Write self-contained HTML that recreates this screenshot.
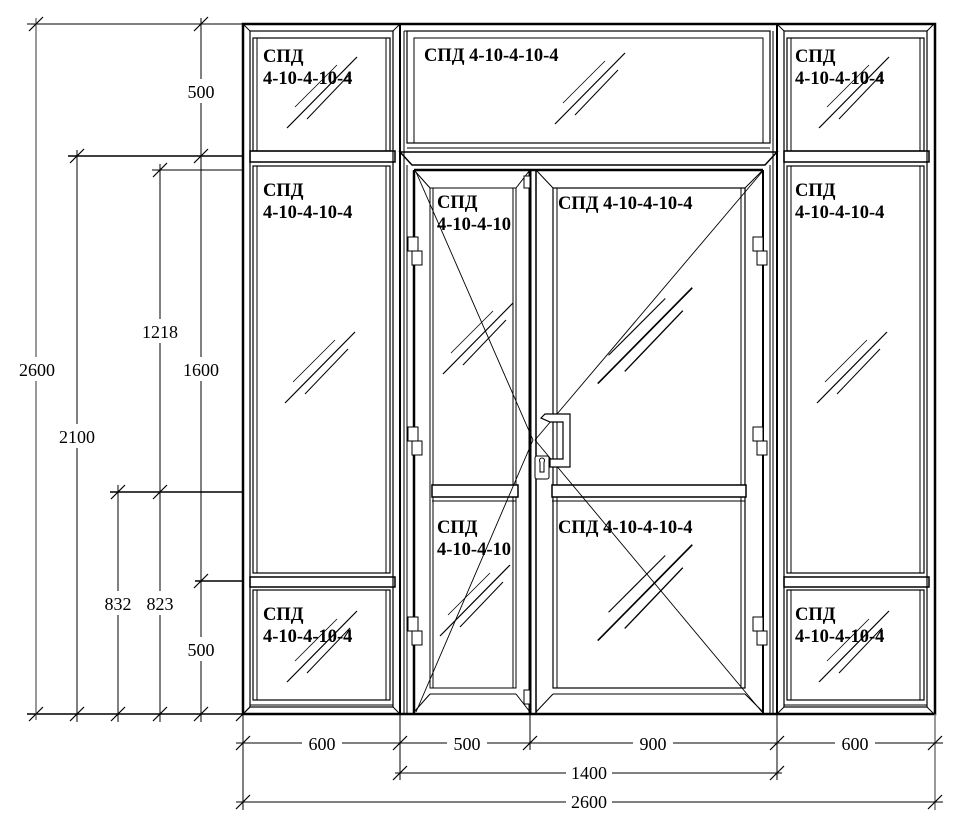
<!DOCTYPE html>
<html><head><meta charset="utf-8"><style>
html,body{margin:0;padding:0;background:#fff;}
svg{display:block;}
text{font-family:"Liberation Serif","DejaVu Serif",serif;}
.l{font-weight:bold;font-size:18.5px;}
.d{font-size:18px;}
</style></head><body>
<svg width="965" height="826" viewBox="0 0 965 826" xmlns="http://www.w3.org/2000/svg">
<defs>
<g id="h">
<line x1="-35" y1="36" x2="35" y2="-35" stroke="#000" stroke-width="1.2"/>
<line x1="-27" y1="15" x2="15" y2="-27" stroke="#000" stroke-width="0.8"/>
<line x1="-15" y1="27" x2="28" y2="-18" stroke="#000" stroke-width="1"/>
</g>
<g id="tick"><line x1="-7" y1="7" x2="7" y2="-7" stroke="#000" stroke-width="1.2"/></g>
</defs>
<g fill="none" stroke="#000">
<rect x="243" y="24" width="692" height="690" stroke-width="2.5"/>
<g id="col">
<rect x="250" y="31" width="143" height="676" stroke-width="1.2"/>
<line x1="243" y1="24" x2="250" y2="31"/><line x1="400" y1="24" x2="393" y2="31"/>
<line x1="243" y1="714" x2="250" y2="707"/><line x1="400" y1="714" x2="393" y2="707"/>
<rect x="253" y="38" width="137" height="113" stroke-width="1.2"/>
<line x1="257" y1="38" x2="257" y2="151"/><line x1="386" y1="38" x2="386" y2="151"/>
<rect x="250" y="151" width="145" height="11" stroke-width="1.5"/>
<rect x="253" y="166" width="137" height="407" stroke-width="1.2"/>
<line x1="257" y1="166" x2="257" y2="573"/><line x1="386" y1="166" x2="386" y2="573"/>
<rect x="250" y="577" width="145" height="10" stroke-width="1.5"/>
<rect x="253" y="590" width="137" height="110" stroke-width="1.2"/>
<line x1="257" y1="590" x2="257" y2="700"/><line x1="386" y1="590" x2="386" y2="700"/>
<line x1="250" y1="705" x2="393" y2="705"/>
</g>
<use href="#col" transform="translate(534,0)"/>
<line x1="400" y1="24" x2="400" y2="714" stroke-width="2"/>
<line x1="777" y1="24" x2="777" y2="714" stroke-width="2"/>
<line x1="404" y1="31" x2="404" y2="714"/>
<line x1="773" y1="31" x2="773" y2="714"/>
<rect x="407" y="31" width="363" height="112" stroke-width="1.2"/>
<line x1="404" y1="31" x2="770" y2="31"/>
<rect x="414" y="38" width="349" height="105" stroke-width="1"/>
<line x1="407" y1="148" x2="770" y2="148"/>
<path d="M400 152 L777 152 L765 165 L412 165 Z" stroke-width="1.5"/>
<line x1="414" y1="170" x2="763" y2="170" stroke-width="2.5"/>
<line x1="414" y1="170" x2="414" y2="714" stroke-width="2.5"/>
<line x1="763" y1="170" x2="763" y2="714" stroke-width="2"/>
<line x1="407" y1="165" x2="407" y2="714"/>
<line x1="770" y1="165" x2="770" y2="714"/>
<line x1="404" y1="714" x2="773" y2="714" stroke-width="2"/>
<line x1="530" y1="170" x2="530" y2="714" stroke-width="3"/>
<rect x="430" y="188" width="86" height="500" stroke-width="1"/>
<line x1="433" y1="188" x2="433" y2="688"/><line x1="513" y1="188" x2="513" y2="688"/>
<line x1="414" y1="170" x2="430" y2="188"/><line x1="530" y1="170" x2="516" y2="188"/>
<line x1="414" y1="712" x2="430" y2="694"/><line x1="530" y1="712" x2="516" y2="694"/>
<line x1="430" y1="694" x2="516" y2="694"/>
<rect x="432" y="485" width="86" height="12" fill="#fff" stroke-width="1.5"/>
<line x1="432" y1="501" x2="516" y2="501"/>
<line x1="416" y1="172" x2="533" y2="440" stroke-width="0.9"/>
<line x1="533" y1="440" x2="416" y2="712" stroke-width="0.9"/>
<line x1="536" y1="170" x2="536" y2="714" stroke-width="1.5"/>
<rect x="553" y="188" width="192" height="500" stroke-width="1.2"/>
<line x1="557" y1="188" x2="557" y2="688"/><line x1="741" y1="188" x2="741" y2="688"/>
<line x1="536" y1="170" x2="553" y2="188"/><line x1="763" y1="170" x2="745" y2="188"/>
<line x1="536" y1="712" x2="553" y2="694"/><line x1="763" y1="712" x2="745" y2="694"/>
<line x1="553" y1="694" x2="745" y2="694"/>
<rect x="552" y="485" width="194" height="12" fill="#fff" stroke-width="1.5"/>
<line x1="552" y1="501" x2="745" y2="501"/>
<line x1="762" y1="172" x2="535" y2="440" stroke-width="0.9"/>
<line x1="535" y1="440" x2="762" y2="712" stroke-width="0.9"/>
<g stroke-width="1" fill="#fff">
<rect x="408" y="237" width="10" height="14"/><rect x="412" y="251" width="10" height="14"/>
<rect x="408" y="427" width="10" height="14"/><rect x="412" y="441" width="10" height="14"/>
<rect x="408" y="617" width="10" height="14"/><rect x="412" y="631" width="10" height="14"/>
<rect x="753" y="237" width="10" height="14"/><rect x="757" y="251" width="10" height="14"/>
<rect x="753" y="427" width="10" height="14"/><rect x="757" y="441" width="10" height="14"/>
<rect x="753" y="617" width="10" height="14"/><rect x="757" y="631" width="10" height="14"/>
</g>
<rect x="524" y="176" width="6" height="12" fill="#fff"/>
<rect x="524" y="690" width="6" height="14" fill="#fff"/>
<path d="M545 414 L570 414 L570 467 L550 467 L550 459 L563 459 L563 422 L550 422 L541 418 Z" fill="#fff" stroke-width="1.2"/>
<rect x="535" y="456" width="14" height="23" rx="2" fill="#fff"/>
<path d="M540 462 a2.5 2.5 0 1 1 4 0 l0 10 l-4 0 Z" stroke-width="1"/>
</g>
<use href="#h" x="322" y="92"/>
<use href="#h" x="320" y="367"/>
<use href="#h" x="322" y="646"/>
<use href="#h" x="854" y="92"/>
<use href="#h" x="852" y="367"/>
<use href="#h" x="854" y="646"/>
<use href="#h" x="590" y="88"/>
<use href="#h" x="478" y="338"/>
<use href="#h" x="475" y="600"/>
<g transform="translate(645,335) scale(1.35)"><use href="#h"/></g>
<g transform="translate(645,592) scale(1.35)"><use href="#h"/></g>
<g class="l">
<text x="263" y="62">СПД</text><text x="263" y="84">4-10-4-10-4</text>
<text x="263" y="196">СПД</text><text x="263" y="218">4-10-4-10-4</text>
<text x="263" y="620">СПД</text><text x="263" y="642">4-10-4-10-4</text>
<text x="795" y="62">СПД</text><text x="795" y="84">4-10-4-10-4</text>
<text x="795" y="196">СПД</text><text x="795" y="218">4-10-4-10-4</text>
<text x="795" y="620">СПД</text><text x="795" y="642">4-10-4-10-4</text>
<text x="424" y="61">СПД 4-10-4-10-4</text>
<text x="437" y="208">СПД</text><text x="437" y="230">4-10-4-10</text>
<text x="437" y="533">СПД</text><text x="437" y="555">4-10-4-10</text>
<text x="558" y="209">СПД 4-10-4-10-4</text>
<text x="558" y="533">СПД 4-10-4-10-4</text>
</g>
<g stroke="#000" stroke-width="1">
<line x1="27" y1="24" x2="243" y2="24"/>
<line x1="68" y1="156" x2="243" y2="156" stroke-width="1.5"/>
<line x1="152" y1="170" x2="243" y2="170"/>
<line x1="110" y1="492" x2="243" y2="492" stroke-width="1.5"/>
<line x1="195" y1="581" x2="243" y2="581" stroke-width="1.5"/>
<line x1="27" y1="714" x2="243" y2="714" stroke-width="1.5"/>
<line x1="36" y1="18" x2="36" y2="720" stroke="#777" stroke-width="1.5"/>
<line x1="77" y1="150" x2="77" y2="722"/>
<line x1="118" y1="485" x2="118" y2="722"/>
<line x1="160" y1="164" x2="160" y2="722"/>
<line x1="201" y1="18" x2="201" y2="722"/>
<line x1="243" y1="714" x2="243" y2="810"/>
<line x1="400" y1="714" x2="400" y2="780"/>
<line x1="530" y1="714" x2="530" y2="750"/>
<line x1="777" y1="714" x2="777" y2="780"/>
<line x1="935" y1="714" x2="935" y2="810" stroke="#777" stroke-width="1.5"/>
<line x1="236" y1="743" x2="943" y2="743"/>
<line x1="395" y1="773" x2="782" y2="773"/>
<line x1="236" y1="802" x2="943" y2="802"/>
</g>
<g>
<use href="#tick" x="36" y="24"/><use href="#tick" x="201" y="24"/>
<use href="#tick" x="77" y="156"/><use href="#tick" x="201" y="156"/>
<use href="#tick" x="160" y="170"/>
<use href="#tick" x="118" y="492"/><use href="#tick" x="160" y="492"/>
<use href="#tick" x="201" y="581"/>
<use href="#tick" x="36" y="714"/><use href="#tick" x="77" y="714"/><use href="#tick" x="118" y="714"/><use href="#tick" x="160" y="714"/><use href="#tick" x="201" y="714"/><use href="#tick" x="243" y="714"/>
<use href="#tick" x="243" y="743"/><use href="#tick" x="400" y="743"/><use href="#tick" x="530" y="743"/><use href="#tick" x="777" y="743"/><use href="#tick" x="935" y="743"/>
<use href="#tick" x="400" y="773"/><use href="#tick" x="777" y="773"/>
<use href="#tick" x="243" y="802"/><use href="#tick" x="935" y="802"/>
</g>
<g class="d" text-anchor="middle">
<g fill="#fff"><rect x="181" y="79" width="40" height="24"/><rect x="178" y="357" width="46" height="24"/><rect x="181" y="637" width="40" height="24"/>
<rect x="137" y="319" width="46" height="24"/><rect x="14" y="357" width="46" height="24"/><rect x="54" y="424" width="46" height="24"/>
<rect x="98" y="591" width="40" height="24"/><rect x="140" y="591" width="40" height="24"/>
<rect x="302" y="733" width="40" height="20"/><rect x="447" y="733" width="40" height="20"/><rect x="633" y="733" width="40" height="20"/><rect x="835" y="733" width="40" height="20"/>
<rect x="566" y="763" width="46" height="20"/><rect x="566" y="792" width="46" height="20"/></g>
<text x="201" y="98">500</text><text x="201" y="376">1600</text><text x="201" y="656">500</text>
<text x="160" y="338">1218</text><text x="37" y="376">2600</text><text x="77" y="443">2100</text>
<text x="118" y="610">832</text><text x="160" y="610">823</text>
<text x="322" y="750">600</text><text x="467" y="750">500</text><text x="653" y="750">900</text><text x="855" y="750">600</text>
<text x="589" y="779">1400</text><text x="589" y="808">2600</text>
</g>
</svg>
</body></html>
